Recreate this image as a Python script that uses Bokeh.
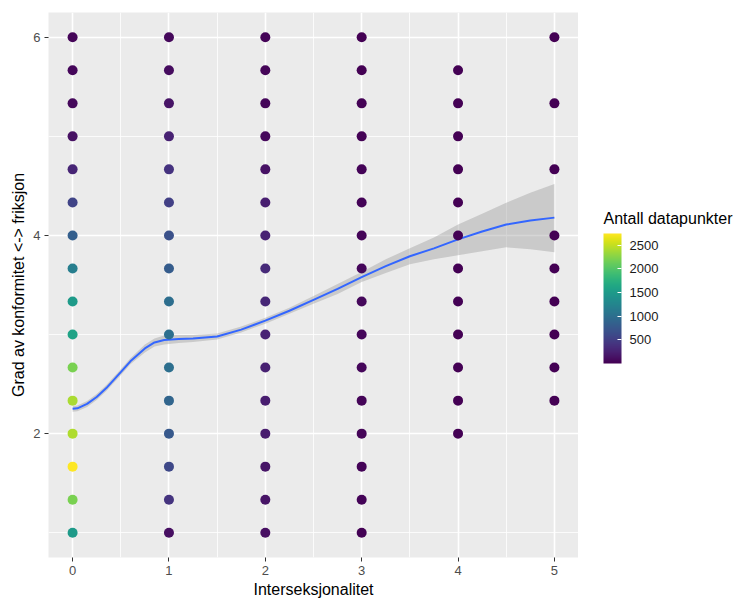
from bokeh.plotting import figure
from bokeh.layouts import row
from bokeh.models import LinearColorMapper, ColorBar, FixedTicker, ColumnDataSource, Range1d, Label
from bokeh.palettes import Viridis256
from bokeh.embed import file_html
from bokeh.resources import INLINE

# ---- data ----
y_levels = [1.0, 1.333, 1.667, 2.0, 2.333, 2.667, 3.0, 3.333, 3.667, 4.0,
            4.333, 4.667, 5.0, 5.333, 5.667, 6.0]

col0_y = y_levels
col0_n = [1500, 2200, 2750, 2420, 2400, 2200, 1600, 1500, 1180, 830, 560, 290, 120, 60, 50, 40]
col1_y = y_levels
col1_n = [110, 410, 600, 770, 900, 1010, 1000, 990, 800, 680, 520, 400, 260, 150, 90, 60]
col2_y = y_levels
col2_n = [110, 150, 160, 210, 220, 250, 280, 310, 330, 260, 230, 130, 70, 50, 40, 30]
col3_y = y_levels
col3_n = [20, 25, 30, 35, 40, 45, 50, 55, 50, 40, 30, 25, 20, 15, 10, 10]
col4_y = [2.0, 2.333, 2.667, 3.0, 3.333, 3.667, 4.0, 4.333, 4.667, 5.0, 5.333, 5.667]
col4_n = [5, 6, 8, 10, 12, 10, 8, 6, 5, 3, 2, 1]
col5_y = [2.333, 2.667, 3.0, 3.333, 3.667, 4.0, 4.667, 5.333, 6.0]
col5_n = [2, 3, 4, 4, 3, 2, 1, 1, 1]

columns = [(0, col0_y, col0_n), (1, col1_y, col1_n), (2, col2_y, col2_n),
           (3, col3_y, col3_n), (4, col4_y, col4_n), (5, col5_y, col5_n)]

# loess smooth
smooth_x = [0.0, 0.05, 0.15, 0.25, 0.35, 0.5, 0.6, 0.75, 0.85, 0.95, 1.1, 1.25, 1.5, 1.75,
            2.0, 2.25, 2.5, 2.75, 3.0, 3.25, 3.5, 3.75, 4.0, 4.25, 4.5, 4.75, 5.0]
smooth_y = [2.25, 2.255, 2.30, 2.37, 2.46, 2.62, 2.73, 2.86, 2.92, 2.945, 2.955, 2.96, 2.98, 3.05,
            3.14, 3.24, 3.35, 3.46, 3.58, 3.69, 3.79, 3.87, 3.96, 4.04, 4.11, 4.15, 4.18]
smooth_lo = [2.22, 2.225, 2.27, 2.34, 2.43, 2.59, 2.70, 2.82, 2.88, 2.90, 2.915, 2.925, 2.95, 3.02,
             3.11, 3.21, 3.31, 3.41, 3.53, 3.62, 3.71, 3.76, 3.80, 3.84, 3.88, 3.86, 3.83]
smooth_hi = [2.28, 2.285, 2.33, 2.40, 2.49, 2.65, 2.76, 2.90, 2.96, 2.99, 2.995, 2.995, 3.01, 3.08,
             3.17, 3.27, 3.39, 3.51, 3.63, 3.76, 3.87, 3.98, 4.11, 4.22, 4.33, 4.43, 4.52]

cbar_ticks = [500, 1000, 1500, 2000, 2500]
count_low, count_high = 1, 2750
legend_title = "Antall datapunkter"

xs, ys, ns = [], [], []
for xv, yl, nl in columns:
    for yv, nv in zip(yl, nl):
        xs.append(xv)
        ys.append(yv)
        ns.append(nv)
src = ColumnDataSource(dict(x=xs, y=ys, n=ns))

FONT = "Liberation Sans"

p = figure(width=578, height=600, x_range=Range1d(-0.25, 5.25), y_range=Range1d(0.75, 6.25),
           output_backend="svg", toolbar_location=None,
           min_border_left=48, min_border_top=12, min_border_bottom=43, min_border_right=0)
p.background_fill_color = "#EBEBEB"
p.border_fill_color = "white"
p.outline_line_color = None

mapper = LinearColorMapper(palette=Viridis256, low=count_low, high=count_high)

p.varea(x=smooth_x, y1=smooth_lo, y2=smooth_hi, fill_color="#999999", fill_alpha=0.4)
p.line(x=smooth_x, y=smooth_y, line_color="#3366FF", line_width=2)
p.scatter(x="x", y="y", source=src, size=10, line_color=None,
          fill_color={"field": "n", "transform": mapper})

p.xaxis.ticker = FixedTicker(ticks=[0, 1, 2, 3, 4, 5], minor_ticks=[0.5, 1.5, 2.5, 3.5, 4.5])
p.yaxis.ticker = FixedTicker(ticks=[2, 4, 6], minor_ticks=[1, 3, 5])
p.xaxis.axis_label = "Interseksjonalitet"
p.yaxis.axis_label = "Grad av konformitet <-> friksjon"
for ax in (p.xaxis, p.yaxis):
    ax.axis_line_color = None
    ax.major_tick_line_color = "#333333"
    ax.major_tick_out = 4
    ax.major_tick_in = 0
    ax.minor_tick_line_color = None
    ax.major_label_text_color = "#4D4D4D"
    ax.major_label_text_font = FONT
    ax.major_label_text_font_size = "13px"
    ax.major_label_standoff = 4
    ax.axis_label_text_font = FONT
    ax.axis_label_text_font_size = "16px"
    ax.axis_label_text_font_style = "normal"
    ax.axis_label_text_color = "black"
    ax.axis_label_standoff = 3

p.grid.grid_line_color = "white"
p.grid.grid_line_width = 1.6
p.grid.minor_grid_line_color = "white"
p.grid.minor_grid_line_width = 0.8

# ---- legend panel (separate figure to the right, frame aligned with main frame) ----
leg = figure(width=168, height=600, x_range=Range1d(0, 168), y_range=Range1d(0, 545),
             output_backend="svg", toolbar_location=None,
             min_border_left=0, min_border_right=0, min_border_top=12, min_border_bottom=43)
leg.axis.visible = False
leg.grid.visible = False
leg.outline_line_color = None
leg.background_fill_color = "white"
leg.border_fill_color = "white"

cbar = ColorBar(color_mapper=mapper, ticker=FixedTicker(ticks=cbar_ticks),
                width=18, height=130, location=(25, 194), orientation="vertical",
                title=None,
                major_label_text_font=FONT, major_label_text_font_size="13px",
                major_label_text_color="#1A1A1A", label_standoff=8,
                major_tick_line_color="white", major_tick_in=4, major_tick_out=0,
                bar_line_color=None, border_line_color=None, background_fill_color=None,
                padding=0, margin=0)
leg.add_layout(cbar)

title_lbl = Label(x=25, y=339, text=legend_title, text_font=FONT, text_font_size="16px",
                  text_color="black", text_baseline="alphabetic", text_align="left")
leg.add_layout(title_lbl)

layout = row(p, leg, spacing=0)
open("out.html", "w").write(file_html(layout, INLINE))
